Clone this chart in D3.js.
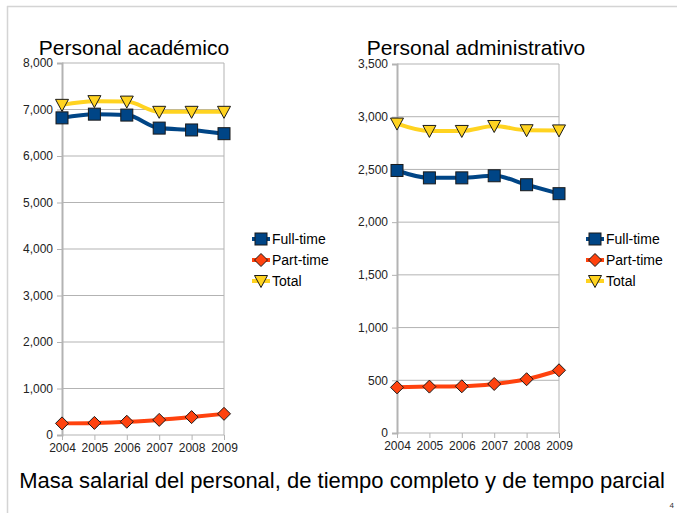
<!DOCTYPE html>
<html>
<head>
<meta charset="utf-8">
<script src="https://cdn.jsdelivr.net/npm/d3@7"></script>
<style>
  body { margin: 0; background: #fff; }
  text { font-family: "Liberation Sans", Arial, sans-serif; }
</style>
</head>
<body>
<div id="chart"></div>
<script>
const width = 677;
const height = 513;

// Données
const years = [2004, 2005, 2006, 2007, 2008, 2009];
const seriesNames = ["Full-time", "Part-time", "Total"];

const acadFull = [6820, 6900, 6880, 6600, 6560, 6480];
const acadPart = [250, 260, 285, 325, 385, 455];
const acadTotal = [7100, 7180, 7170, 6950, 6950, 6950];
const acadTicks = [0, 1000, 2000, 3000, 4000, 5000, 6000, 7000, 8000];

const admFull = [2490, 2420, 2420, 2440, 2355, 2270];
const admPart = [433, 440, 443, 465, 510, 595];
const admTotal = [2935, 2865, 2865, 2912, 2872, 2870];
const admTicks = [0, 500, 1000, 1500, 2000, 2500, 3000, 3500];

const colors = { "Full-time": "#004586", "Part-time": "#ff420e", "Total": "#ffd320" };
const symbols = { "Full-time": "square", "Part-time": "diamond", "Total": "triangle" };

const svg = d3.select("#chart")
  .append("svg")
  .attr("width", width)
  .attr("height", height);

// Cadre de la diapositive
svg.append("line").attr("x1", 7).attr("x2", width).attr("y1", 6.5).attr("y2", 6.5)
  .attr("stroke", "#d4d4d4").attr("stroke-width", 1.5);
svg.append("line").attr("x1", 7.5).attr("x2", 7.5).attr("y1", 6).attr("y2", height)
  .attr("stroke", "#d4d4d4").attr("stroke-width", 1.5);

function drawMarker(g, type, x, y, color) {
  if (type === "square") {
    g.append("rect").attr("x", x - 6).attr("y", y - 6).attr("width", 12).attr("height", 12)
      .attr("fill", color).attr("stroke", "#1a1a1a").attr("stroke-width", 1);
  } else if (type === "diamond") {
    g.append("path").attr("d", `M${x},${y - 6.5}L${x + 6.5},${y}L${x},${y + 6.5}L${x - 6.5},${y}Z`)
      .attr("fill", color).attr("stroke", "#1a1a1a").attr("stroke-width", 1);
  } else {
    g.append("path").attr("d", `M${x - 6.5},${y - 5.5}L${x + 6.5},${y - 5.5}L${x},${y + 6.5}Z`)
      .attr("fill", color).attr("stroke", "#1a1a1a").attr("stroke-width", 1);
  }
}

function drawChart(opts) {
  const { left, right, top, bottom, maxY, ticks, data, title, titleX, legendX } = opts;

  const x = d3.scalePoint().domain(years).range([left, right]);
  const y = d3.scaleLinear().domain([0, maxY]).range([bottom, top]);

  const g = svg.append("g");

  // Grille horizontale
  g.append("g")
    .selectAll("line")
    .data(ticks)
    .enter()
    .append("line")
    .attr("x1", left).attr("x2", right)
    .attr("y1", d => y(d)).attr("y2", d => y(d))
    .attr("stroke", "#b3b3b3").attr("stroke-width", 1);

  // Bordure droite
  g.append("line").attr("x1", right).attr("x2", right).attr("y1", top).attr("y2", bottom)
    .attr("stroke", "#b3b3b3").attr("stroke-width", 1);

  // Axe Y
  const yAxis = g.append("g")
    .attr("transform", `translate(${left},0)`)
    .call(d3.axisLeft(y).tickValues(ticks).tickSize(5).tickPadding(4).tickFormat(d3.format(",")));
  yAxis.select(".domain").attr("stroke", "#b3b3b3").attr("stroke-width", 2);
  yAxis.selectAll(".tick line").attr("stroke", "#b3b3b3");
  yAxis.selectAll("text").attr("font-size", "12px").attr("fill", "#222");

  // Axe X
  const xAxis = g.append("g")
    .attr("transform", `translate(0,${bottom})`)
    .call(d3.axisBottom(x).tickSize(5).tickPadding(3));
  xAxis.select(".domain").remove();
  xAxis.selectAll(".tick line").attr("stroke", "#b3b3b3");
  xAxis.selectAll("text").attr("font-size", "12px").attr("fill", "#222");

  // Séries
  const line = d3.line()
    .x((d, i) => x(years[i]))
    .y(d => y(d))
    .curve(d3.curveMonotoneX);

  ["Total", "Full-time", "Part-time"].forEach(name => {
    g.append("path")
      .datum(data[name])
      .attr("d", line)
      .attr("fill", "none")
      .attr("stroke", colors[name])
      .attr("stroke-width", 4);
  });
  ["Total", "Full-time", "Part-time"].forEach(name => {
    data[name].forEach((v, i) => drawMarker(g, symbols[name], x(years[i]), y(v), colors[name]));
  });

  // Titre
  g.append("text")
    .attr("x", titleX)
    .attr("y", 55)
    .attr("text-anchor", "middle")
    .attr("font-size", "21px")
    .attr("fill", "#000")
    .text(title);

  // Légende
  seriesNames.forEach((name, i) => {
    const ly = 239 + i * 21;
    g.append("line").attr("x1", legendX).attr("x2", legendX + 18).attr("y1", ly).attr("y2", ly)
      .attr("stroke", colors[name]).attr("stroke-width", 4);
    drawMarker(g, symbols[name], legendX + 9, ly, colors[name]);
    g.append("text")
      .attr("x", legendX + 20)
      .attr("y", ly + 5)
      .attr("font-size", "14px")
      .attr("fill", "#000")
      .text(name);
  });
}

drawChart({
  left: 62, right: 224, top: 63, bottom: 435, maxY: 8000, ticks: acadTicks,
  data: { "Full-time": acadFull, "Part-time": acadPart, "Total": acadTotal },
  title: "Personal académico", titleX: 134, legendX: 252
});

drawChart({
  left: 397, right: 559, top: 64, bottom: 433, maxY: 3500, ticks: admTicks,
  data: { "Full-time": admFull, "Part-time": admPart, "Total": admTotal },
  title: "Personal administrativo", titleX: 476, legendX: 586
});

// Titre général
svg.append("text")
  .attr("x", 342)
  .attr("y", 488)
  .attr("text-anchor", "middle")
  .attr("font-size", "22px")
  .attr("fill", "#000")
  .text("Masa salarial del personal, de tiempo completo y de tempo parcial");

svg.append("text")
  .attr("x", 674)
  .attr("y", 508)
  .attr("text-anchor", "end")
  .attr("font-size", "8px")
  .attr("fill", "#333")
  .text("4");
</script>
</body>
</html>
